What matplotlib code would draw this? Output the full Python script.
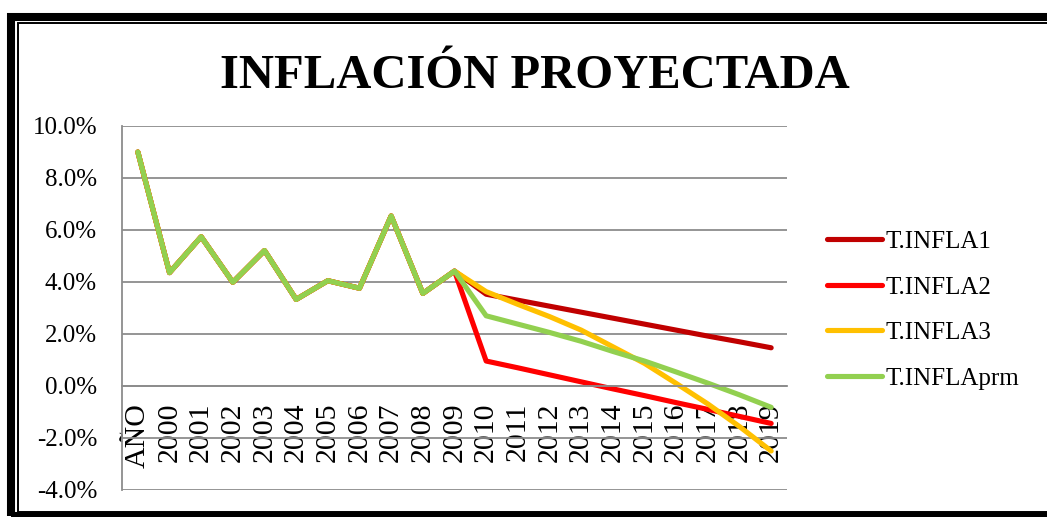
"""Projected inflation line chart (T.INFLA series), saved to out.png."""
from __future__ import annotations

import matplotlib

matplotlib.use("Agg")
import matplotlib.pyplot as plt  # noqa: E402
from matplotlib.patches import Rectangle  # noqa: E402

W, H = 1047, 517

categories = ["AÑO"] + [str(y) for y in range(2000, 2020)]
history = [9.0, 4.36, 5.74, 3.99, 5.21, 3.33, 4.05, 3.76, 6.54, 3.56, 4.42]
infla1 = history + [3.53, 3.30, 3.07, 2.84, 2.61, 2.38, 2.15, 1.92, 1.70, 1.47]
infla2 = history + [0.96, 0.70, 0.43, 0.16, -0.11, -0.37, -0.64, -0.90, -1.17, -1.44]
infla3 = history + [3.63, 3.14, 2.67, 2.15, 1.51, 0.87, 0.10, -0.69, -1.56, -2.50]
inflaprm = history + [2.70, 2.38, 2.06, 1.72, 1.33, 0.96, 0.54, 0.11, -0.34, -0.82]
series_names = ["T.INFLA1", "T.INFLA2", "T.INFLA3", "T.INFLAprm"]
series_colors = ["#C00000", "#FF0000", "#FFC000", "#92D050"]
y_ticks = [-4, -2, 0, 2, 4, 6, 8, 10]

SERIF = ["Liberation Serif", "DejaVu Serif"]
GRID = "#8C8C8C"


def fx(px: float) -> float:
    return px / W


def fy(py: float) -> float:
    return 1 - py / H


def render(out: str = "out.png") -> None:
    plt.rcParams["font.family"] = SERIF
    fig = plt.figure(figsize=(W / 100, H / 100), dpi=100)
    ax = fig.add_axes([fx(122), fy(490), fx(787) - fx(122), fy(126) - fy(490)])

    # category axis crosses at 0 (set first: set_position resets the ticks)
    for side in ("top", "right"):
        ax.spines[side].set_visible(False)
    ax.spines["bottom"].set_position(("data", 0))
    for side in ("left", "bottom"):
        ax.spines[side].set_color(GRID)
        ax.spines[side].set_linewidth(1.3)

    x = list(range(len(categories)))
    for name, vals, col in zip(series_names, [infla1, infla2, infla3, inflaprm], series_colors):
        ax.plot(x, vals, color=col, lw=3.7, label=name,
                solid_capstyle="round", solid_joinstyle="round")

    ax.set_xlim(-0.5, len(categories) - 0.5)
    ax.set_ylim(-4, 10)
    ax.set_yticks(y_ticks)
    ax.set_yticklabels([f"{v:.1f}%" for v in y_ticks], fontsize=18)
    ax.yaxis.grid(True, color=GRID, lw=1.3)
    ax.set_axisbelow(True)
    ax.tick_params(axis="y", length=0, pad=18)

    ax.set_xticks(x)
    ax.set_xticklabels(categories, rotation=90, fontsize=21.5)
    ax.tick_params(axis="x", length=0, pad=12)

    ax.legend(loc="center left", bbox_to_anchor=(fx(827), fy(310)),
              bbox_transform=fig.transFigure, frameon=False, fontsize=18,
              handlelength=2.2, handletextpad=0.15, labelspacing=0.92,
              borderpad=0, borderaxespad=0)

    fig.text(fx(534.5), fy(88), "INFLACIÓN PROYECTADA", ha="center",
             va="baseline", fontsize=35, fontweight="bold", family=SERIF)

    # double frame round the chart
    fig.add_artist(Rectangle((fx(11.2), fy(516)), fx(1080), fy(16.5) - fy(516),
                             transform=fig.transFigure, fill=False,
                             edgecolor="black", lw=5.8))
    fig.add_artist(Rectangle((fx(18.3), fy(511.5)), fx(1080), fy(23.5) - fy(511.5),
                             transform=fig.transFigure, fill=False,
                             edgecolor="black", lw=1.4))

    fig.savefig(out, dpi=100)
    plt.close(fig)


def main() -> None:
    render()


if __name__ == "__main__":
    main()
